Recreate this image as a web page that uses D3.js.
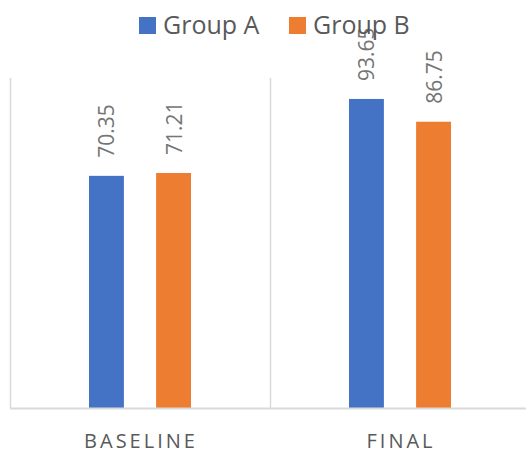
<!DOCTYPE html>
<html>
<head>
    <title>Group chart</title>
    <script src="https://d3js.org/d3.v7.min.js"></script>
    <style type="text/css">
        body { margin: 0; background: #ffffff; }
        svg { display: block; font-family: "Open Sans", Lato, sans-serif; }
    </style>
</head>
<body>
<div id="chart"></div>
<script>
var categories = ["BASELINE", "FINAL"]
var groups = ["Group A", "Group B"]
var groupA = [70.35, 93.65]
var groupB = [71.21, 86.75]
var colors = ["#4472c4", "#ed7d31"]

var width = 526, height = 453
// plot area runs a little past the right edge of the picture
var margin = {top: 78, left: 10, right: -4, bottom: 45}

var svg = d3.select("#chart")
    .append("svg")
    .attr("width", width)
    .attr("height", height)

var x0 = d3.scaleBand()
    .domain(categories)
    .range([margin.left, width - margin.right])

var x1 = d3.scaleBand()
    .domain(groups)
    .range([79, 181])
    .paddingInner(0.48)

var y = d3.scaleLinear()
    .domain([0, 100])
    .range([height - margin.bottom, margin.top])

// separators between categories
svg.selectAll(".sep")
    .data(categories)
    .enter().append("line")
    .attr("x1", d => Math.round(x0(d)) + 0.5)
    .attr("x2", d => Math.round(x0(d)) + 0.5)
    .attr("y1", y(100))
    .attr("y2", y(0))
    .attr("stroke", "#d9d9d9")
    .attr("stroke-width", 1.5)

var rows = categories.map((c, i) => ({cat: c, vals: [groupA[i], groupB[i]]}))

var g = svg.selectAll(".cat")
    .data(rows)
    .enter().append("g")
    .attr("transform", d => "translate(" + x0(d.cat) + ",0)")

g.selectAll("rect")
    .data(d => d.vals.map((v, j) => ({g: groups[j], v: v, j: j})))
    .enter().append("rect")
    .attr("x", d => x1(d.g))
    .attr("width", x1.bandwidth())
    .attr("y", d => y(d.v))
    .attr("height", d => y(0) - y(d.v))
    .attr("fill", d => colors[d.j])

// axis line
svg.append("line")
    .attr("x1", margin.left)
    .attr("x2", width)
    .attr("y1", y(0) + 0.5)
    .attr("y2", y(0) + 0.5)
    .attr("stroke", "#d9d9d9")
    .attr("stroke-width", 2)

svg.selectAll(".cat-label")
    .data(categories)
    .enter().append("text")
    .attr("x", d => x0(d) + x0.bandwidth() / 2 + 1)
    .attr("y", 448)
    .attr("text-anchor", "middle")
    .attr("font-size", 20)
    .attr("letter-spacing", 3)
    .attr("fill", "#595959")
    .text(d => d)

g.selectAll(".lbl")
    .data(d => d.vals.map((v, j) => ({g: groups[j], v: v, j: j})))
    .enter().append("text")
    .attr("transform", d => "translate(" + (x1(d.g) + x1.bandwidth() / 2 + 8) + "," + (y(d.v) - 18) + ") rotate(-90)")
    .attr("font-size", 21)
    .attr("fill", "#757575")
    .text(d => d.v.toFixed(2))

// legend on top
var legX = [139, 289]
var leg = svg.selectAll(".leg")
    .data(groups)
    .enter().append("g")
    .attr("transform", (d, i) => "translate(" + legX[i] + ",17)")

leg.append("rect")
    .attr("width", 17)
    .attr("height", 17)
    .attr("fill", (d, i) => colors[i])

leg.append("text")
    .attr("x", 24)
    .attr("y", 17)
    .attr("font-size", 25)
    .attr("fill", "#595959")
    .text(d => d)
</script>
</body>
</html>
